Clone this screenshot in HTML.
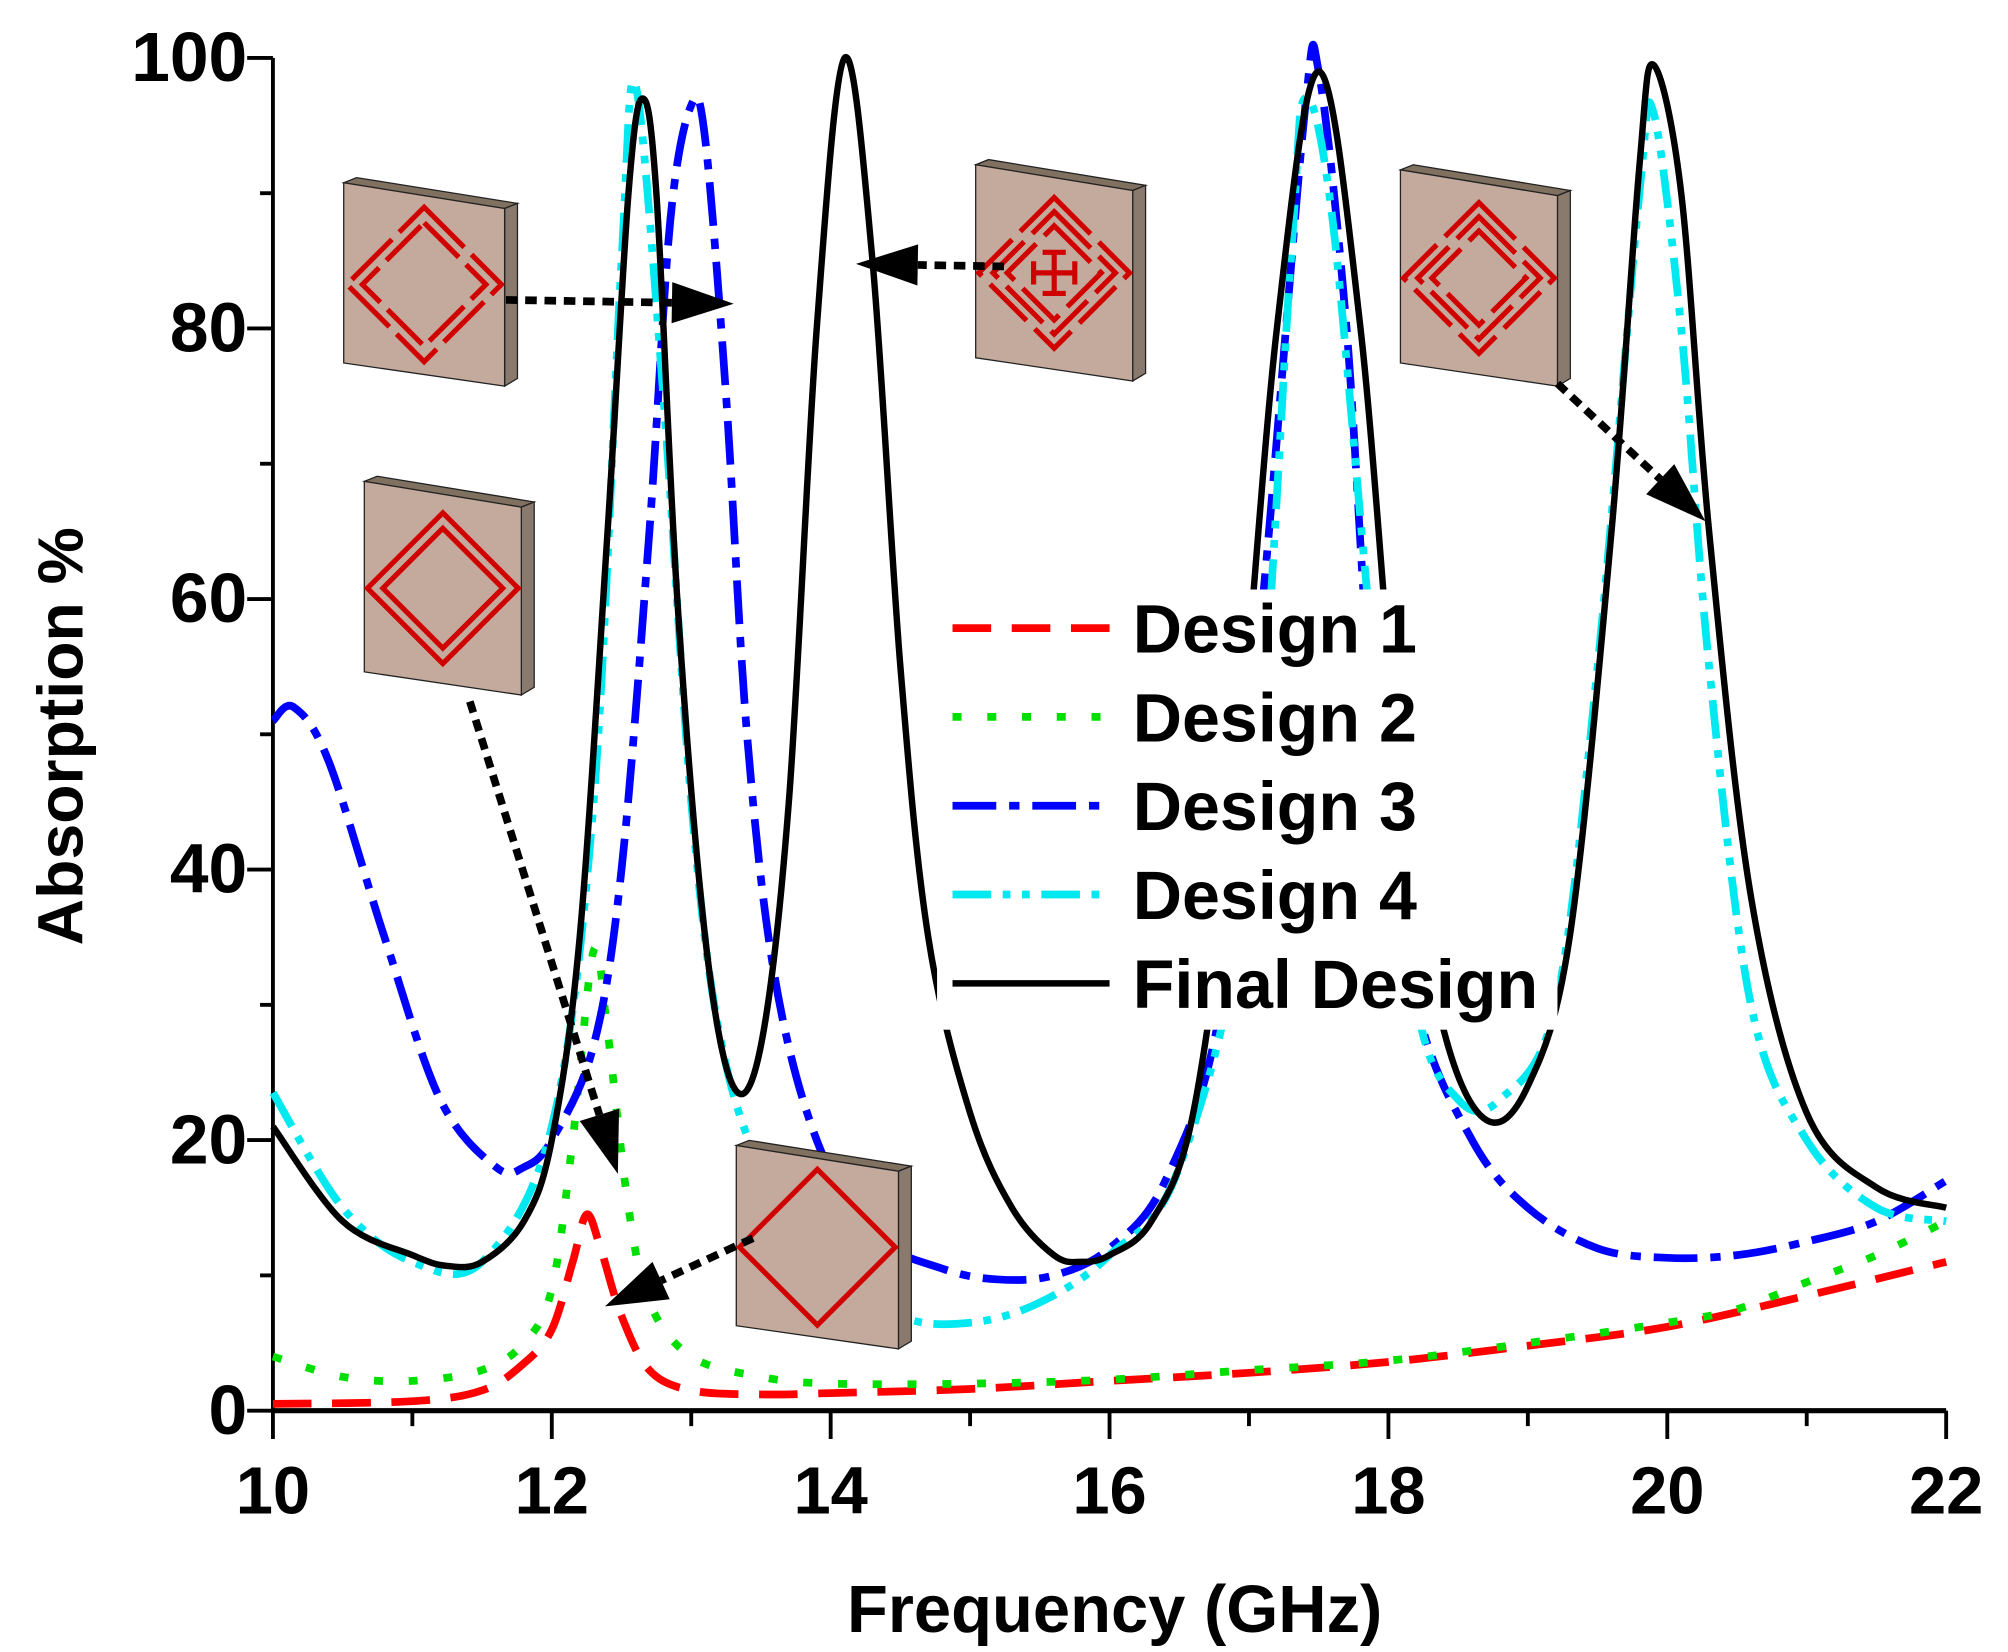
<!DOCTYPE html>
<html><head><meta charset="utf-8"><style>
html,body{margin:0;padding:0;background:#fff}
svg{display:block}
text{font-family:"Liberation Sans",Arial,sans-serif;font-weight:bold;fill:#000}
</style></head><body>
<svg id="chart" width="2008" height="1652" viewBox="0 0 1560 1283.5" xmlns="http://www.w3.org/2000/svg">
<g id="axes"></g>
<g id="series"></g>
<g id="insets"></g>
<g id="legend"></g>
</svg>
<script>
const xTicks=[10,12,14,16,18,20,22];
const yTicks=[0,20,40,60,80,100];
const seriesNames=["Design 1","Design 2","Design 3","Design 4","Final Design"];
const d1F=[10,11,11.5,11.8,12,12.15,12.25,12.35,12.5,12.7,13,13.5,14,15,16,17,18,19,20,21,22];
const d1A=[0.5,0.7,1.5,3.5,6,11,14.5,12,7,3,1.5,1.2,1.3,1.6,2.2,2.8,3.6,4.8,6.2,8.5,11];
const d2F=[10,10.5,11,11.5,11.8,12,12.15,12.3,12.4,12.55,12.7,13,13.5,14,15,16,17,18,19,20,20.5,21,21.5,22];
const d2A=[4,2.5,2.2,3,5,9,20,34,28,15,8,4,2.5,2,2,2.3,3,3.7,5,6.5,7.5,9.5,11.5,14];
const d3F=[10,10.15,10.4,10.8,11.2,11.6,11.8,12,12.3,12.5,12.7,12.85,13,13.1,13.25,13.4,13.6,13.9,14.3,14.8,15.2,15.6,16,16.4,16.8,17.1,17.4,17.5,17.7,17.9,18.2,18.6,19,19.5,20,20.5,21,21.5,22];
const d3A=[51,52,48,35,23,18,18,20,27,40,65,88,96.5,94,75,50,32,20,13,10.5,9.7,10,12,17,30,60,96,99,80,50,30,20,15,12,11.3,11.5,12.5,14,17];
const d4F=[10,10.5,11,11.5,12,12.3,12.5,12.6,12.8,13,13.2,13.5,14,14.5,15,15.5,16,16.5,17,17.3,17.4,17.6,17.9,18.2,18.5,18.8,19.2,19.5,19.8,19.9,20.1,20.3,20.6,21,21.5,22];
const d4A=[23.5,15,11,11,21,45,85,98,75,45,28,18,11,7,6.5,8,11.5,18,40,85,97,88,55,30,23,23,30,55,90,96,80,55,30,20,15,14];
const fdF=[10,10.5,11,11.25,11.5,11.8,12,12.2,12.4,12.55,12.65,12.75,12.9,13.1,13.3,13.5,13.7,13.9,14.1,14.3,14.5,14.7,15,15.3,15.6,15.8,16,16.3,16.6,16.9,17.2,17.5,17.8,18.1,18.4,18.7,19,19.3,19.6,19.8,19.9,20.1,20.3,20.6,21,21.5,22];
const fdA=[21,14,11.5,10.7,11,14,20,35,65,90,97,90,60,35,24,27,45,80,100,85,55,35,22,15,11.5,11,11.5,14,22,45,80,99,80,45,28,21.5,24,35,65,92,99.5,90,65,38,22,16.5,15];

const NS="http://www.w3.org/2000/svg";
const X0=212,X1=1512,Y0=1096,Y1=45;
function xs(f){return X0+(f-10)*(X1-X0)/12;}
function ys(a){return Y0-a*(Y0-Y1)/100;}
function mk(tag,attrs,parent){const e=document.createElementNS(NS,tag);for(const k in attrs)e.setAttribute(k,attrs[k]);parent.appendChild(e);return e;}
const axes=document.getElementById('axes');
for(let f=10;f<=22;f++){const maj=(f%2===0);
 const t=mk('line',{x1:xs(f),x2:xs(f),y1:Y0,y2:Y0+(maj?22:12),stroke:'#000','stroke-width':3},axes);
 
 }
xTicks.forEach(f=>{const t=mk('text',{x:xs(f),y:1176,'text-anchor':'middle','font-size':52},axes);t.textContent=f;
 
 });
for(let a=0;a<=100;a+=10){const maj=(a%20===0);
 const t=mk('line',{x1:X0,x2:X0-(maj?20:10),y1:ys(a),y2:ys(a),stroke:'#000','stroke-width':3},axes);
 
 }
yTicks.forEach(a=>{const t=mk('text',{x:192,y:ys(a)+18,'text-anchor':'end','font-size':54},axes);t.textContent=a;
 
 });
const xa=mk('line',{x1:X0-1,x2:X1,y1:Y0,y2:Y0,stroke:'#000','stroke-width':4},axes);


const ya=mk('line',{x1:X0,x2:X0,y1:Y1,y2:Y0,stroke:'#000','stroke-width':3},axes);


const xt=mk('text',{x:866,y:1268,'text-anchor':'middle','font-size':52},axes);xt.textContent='Frequency (GHz)';


const yt=mk('text',{x:0,y:0,'text-anchor':'middle','font-size':50,transform:'translate(64,572) rotate(-90)'},axes);yt.textContent='Absorption %';



function pathD(F,A){const p=F.map((f,i)=>[xs(f),ys(A[i])]);let d='M'+p[0][0]+','+p[0][1];
 for(let i=0;i<p.length-1;i++){const p0=p[i-1]||p[i],p1=p[i],p2=p[i+1],p3=p[i+2]||p2;
  const c1=[p1[0]+(p2[0]-p0[0])/6,p1[1]+(p2[1]-p0[1])/6],c2=[p2[0]-(p3[0]-p1[0])/6,p2[1]-(p3[1]-p1[1])/6];
  d+=' C'+c1[0]+','+c1[1]+' '+c2[0]+','+c2[1]+' '+p2[0]+','+p2[1];}return d;}
const styles=[
 {c:'#ff0000',w:6,da:'30,16'},
 {c:'#00e000',w:6,da:'7,20'},
 {c:'#0000ff',w:6,da:'34,10,8,10'},
 {c:'#00e8f0',w:6,da:'30,9,6,9,6,9'},
 {c:'#000000',w:5,da:'none'}];
const data=[[d1F,d1A],[d2F,d2A],[d3F,d3A],[d4F,d4A],[fdF,fdA]];
const sg=document.getElementById('series');
const names=['series-design-1','series-design-2','series-design-3','series-design-4','series-final-design'];
data.forEach((s,i)=>{const st=styles[i];
 const p=mk('path',{d:pathD(s[0],s[1]),fill:'none',stroke:st.c,'stroke-width':st.w,'stroke-dasharray':st.da},sg);
 
 });

const ins=document.getElementById('insets');
function tile(x,y,w,h,kind,name){const g=mk('g',{},ins);
 
 
 mk('polygon',{points:`${x},${y} ${x+w},${y+20} ${x+w+10},${y+16} ${x+10},${y-4}`,fill:'#807060',stroke:'#222','stroke-width':1},g);
 mk('polygon',{points:`${x+w},${y+20} ${x+w+10},${y+16} ${x+w+10},${y+h+2} ${x+w},${y+h+8}`,fill:'#8a7a6e',stroke:'#222','stroke-width':1},g);
 mk('polygon',{points:`${x},${y} ${x+w},${y+20} ${x+w},${y+h+8} ${x},${y+h-10}`,fill:'#c4aa9c',stroke:'#222','stroke-width':1},g);
 const cx=x+w/2,cy=y+h/2+4,r=w*0.48;
 const dia=(s)=>`${cx},${cy-s} ${cx+s},${cy} ${cx},${cy+s} ${cx-s},${cy}`;
 const st={fill:'none',stroke:'#d00000','stroke-width':4};
 if(kind===1){mk('polygon',Object.assign({points:dia(r)},st),g);}
 else if(kind===2){mk('polygon',Object.assign({points:dia(r)},st),g);mk('polygon',Object.assign({points:dia(r-12)},st),g);}
 else if(kind===3){mk('polygon',Object.assign({points:dia(r),'stroke-dasharray':'44,8'},st),g);mk('polygon',Object.assign({points:dia(r-12),'stroke-dasharray':'38,8'},st),g);}
 else if(kind===4){for(let k=0;k<3;k++)mk('polygon',Object.assign({points:dia(r-k*11),'stroke-dasharray':'40,9'},st),g);}
 else {for(let k=0;k<3;k++)mk('polygon',Object.assign({points:dia(r-k*11),'stroke-dasharray':'40,9'},st),g);
  mk('path',Object.assign({d:`M${cx-16},${cy} H${cx+16} M${cx},${cy-16} V${cy+16} M${cx-16},${cy-9} V${cy+9} M${cx+16},${cy-9} V${cy+9} M${cx-9},${cy-16} H${cx+9} M${cx-9},${cy+16} H${cx+9}`},st),g);}
 return g;}
tile(267,142,125,150,3,'inset-design-3');
tile(283,374,122,158,2,'inset-design-2');
tile(758,128,122,160,5,'inset-final-design');
tile(1088,132,122,160,4,'inset-design-4');
tile(572,890,126,150,1,'inset-design-1');
function arrow(x1,y1,x2,y2,name){const g=mk('g',{},ins);
 
 
 const dx=x2-x1,dy=y2-y1,L=Math.hypot(dx,dy),ux=dx/L,uy=dy/L,hl=48,hw=16;
 const bx=x2-ux*hl,by=y2-uy*hl;
 mk('line',{x1:x1,y1:y1,x2:bx,y2:by,stroke:'#000','stroke-width':6,'stroke-dasharray':'9,6'},g);
 mk('polygon',{points:`${x2},${y2} ${bx-uy*hw},${by+ux*hw} ${bx+uy*hw},${by-ux*hw}`,fill:'#000'},g);}
arrow(393,233,570,236,'arrow-design-3');
arrow(780,207,665,205,'arrow-final-design');
arrow(1210,298,1325,405,'arrow-design-4');
arrow(365,545,480,912,'arrow-design-2');
arrow(585,962,470,1015,'arrow-design-1');

const lg=document.getElementById('legend');
const bg=mk('rect',{x:728,y:458,width:482,height:342,fill:'#fff'},lg);


seriesNames.forEach((n,i)=>{const y=488+i*69;const st=styles[i];
 const g=mk('g',{},lg);
 
 
 mk('line',{x1:740,x2:862,y1:y,y2:y,stroke:st.c,'stroke-width':st.w,'stroke-dasharray':st.da},g);
 const t=mk('text',{x:880,y:y+19,'font-size':53},g);t.textContent=n;});
</script>
</body></html>
